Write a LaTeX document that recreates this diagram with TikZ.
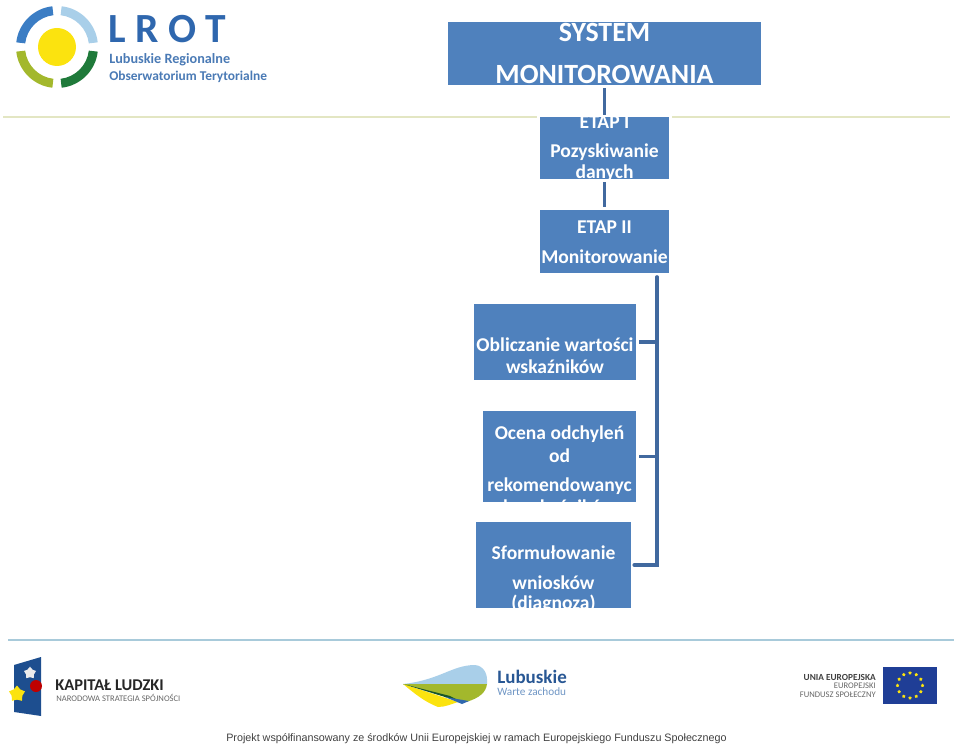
\documentclass[tikz,border=0pt]{standalone}
\usepackage{fontspec}
\setmainfont{Carlito}
\newfontfamily\lrotfont[LetterSpace=24]{Carlito}
\newfontfamily\footfont{Liberation Sans}
\usetikzlibrary{shapes.geometric,calc}
\definecolor{boxblue}{HTML}{4F81BD}
\definecolor{linkblue}{HTML}{41699F}
\definecolor{logoblue}{HTML}{2F67AE}
\definecolor{logotext}{HTML}{4A7AB5}
\definecolor{arcblue}{HTML}{3B7DC4}
\definecolor{arcsky}{HTML}{A9CFE9}
\definecolor{arcolive}{HTML}{A3B82C}
\definecolor{arcgreen}{HTML}{1F7A3A}
\definecolor{sunyellow}{HTML}{FBE30F}
\definecolor{topline}{HTML}{E3E6C3}
\definecolor{botline}{HTML}{A8CADA}
\definecolor{euflag}{HTML}{1F3E96}
\definecolor{kapblue}{HTML}{1D4E8F}
\tikzset{
  blockbox/.style={fill=boxblue,inner sep=0pt},
  blocktext/.style={text=white,align=center,font=\fontsize{13.9}{15}\selectfont\bfseries,inner sep=0pt},
  titletext/.style={text=white,align=center,font=\fontsize{19.8}{22}\selectfont\bfseries,inner sep=0pt},
  link/.style={draw=linkblue,line width=2.6pt},
  greytext/.style={text=black!60,inner sep=0pt,font=\fontsize{6.1}{7}\selectfont},
  eustar/.style={star,star points=5,fill=sunyellow,inner sep=0pt,minimum size=2.6pt}
}
\begin{document}
\begin{tikzpicture}[x=0.025cm,y=-0.025cm]
\useasboundingbox (0,0) rectangle (960,754);

% lines of the slide
\draw[topline,line width=2pt] (3,117)--(537,117);
\draw[topline,line width=2pt] (672,117)--(950,117);
\draw[botline,line width=1.5pt] (8,640)--(954,640);

% top logo
\begin{scope}[shift={(57,47)},x=0.025cm,y=0.025cm]
\foreach \a/\c in {96.5/arcblue,6.5/arcsky,186.5/arcolive,276.5/arcgreen} {
  \fill[\c] (\a:41) arc[start angle=\a,delta angle=77,radius=41] -- (\a+77:32) arc[start angle=\a+77,delta angle=-77,radius=32] -- cycle;
}
\fill[sunyellow] (0,0) circle[radius=19];
\end{scope}
\node[inner sep=0pt,anchor=west,text=logoblue] (lrot) at (108,29.5) {\fontsize{29.5}{30}\lrotfont\bfseries LROT};
\node[inner sep=0pt,anchor=west,text=logotext] (lubreg) at (109,60) {\fontsize{10.1}{12}\selectfont\bfseries Lubuskie Regionalne};
\node[inner sep=0pt,anchor=west,text=logotext] (obster) at (109,77) {\fontsize{9.55}{12}\selectfont\bfseries Obserwatorium Terytorialne};

% boxes
\node[blockbox,minimum width=313*0.711pt,minimum height=63*0.711pt] (system) at (604.5,53.5) {};
\node[blockbox,minimum width=129*0.711pt,minimum height=62*0.711pt] (etapI) at (604.5,148) {};
\node[blockbox,minimum width=129*0.711pt,minimum height=63*0.711pt] (etapII) at (604.5,241.5) {};
\node[blockbox,minimum width=162*0.711pt,minimum height=76*0.711pt] (obliczanie) at (555,342) {};
\node[blockbox,minimum width=153*0.711pt,minimum height=91*0.711pt] (ocena) at (559.5,456.5) {};
\node[blockbox,minimum width=155*0.711pt,minimum height=86*0.711pt] (wnioski) at (553.5,565) {};

% texts
\node[titletext] at (604.5,32) {SYSTEM};
\node[titletext] at (604.5,74) {MONITOROWANIA};
\node[blocktext] at (604.5,122) {ETAP I};
\node[blocktext] at (604.5,152) {Pozyskiwanie};
\node[blocktext] at (604.5,173) {danych};
\node[blocktext] at (604.5,227) {ETAP II};
\node[blocktext] at (604.5,257) {Monitorowanie};
\node[blocktext] at (555,345) {Obliczanie wartości};
\node[blocktext] at (555,367) {wskaźników};
\node[blocktext] at (559.5,434) {Ocena odchyleń};
\node[blocktext] at (559.5,456) {od};
\node[blocktext] at (559.5,486) {rekomendowanyc};
\node[blocktext] at (559.5,507) {h wskaźników};
\node[blocktext] at (553.5,553) {Sformułowanie};
\node[blocktext] at (553.5,583) {wniosków};
\node[blocktext] at (553.5,604) {(diagnoza)};

% connectors
\coordinate (trunk) at (657,277);
\coordinate (corner) at (657,565);
\draw[link,shorten <=3*0.711pt,shorten >=2*0.711pt] (system.south-|etapI.north)--(etapI.north);
\draw[link,shorten <=3*0.711pt,shorten >=3*0.711pt] (etapI.south)--(etapII.north);
\draw[link,line cap=round] (trunk)--(corner)--([xshift=3*0.711pt]wnioski.east|-corner);
\draw[link] ([xshift=3*0.711pt]obliczanie.east)--(obliczanie.east-|trunk);
\draw[link] ([xshift=3*0.711pt]ocena.east)--(ocena.east-|trunk);

% bottom logos
\fill[kapblue] (14,665)--(41,657)--(41,716)--(14,712)--cycle;
\node[star,star points=5,fill=white!85!gray,inner sep=0pt,minimum size=9pt] (kapwhite) at (30,673) {};
\fill[red!75!black] (36,686) circle[radius=6];
\node[star,star points=5,fill=sunyellow,inner sep=0pt,minimum size=12pt] (kapyellow) at (17,694) {};
\node[inner sep=0pt,anchor=west,text=black!85] (kapital) at (55,685) {\fontsize{11.7}{13}\selectfont\bfseries KAPITAŁ LUDZKI};
\node[greytext,anchor=west] (narodowa) at (56,698) {NARODOWA STRATEGIA SPÓJNOŚCI};

\fill[arcsky] (403,684) .. controls (440,680) and (452,665) .. (475,665) .. controls (484,666) and (488,674) .. (487,684) -- cycle;
\fill[arcolive] (403,684)--(487,684) .. controls (486,692) and (480,698) .. (466,702) -- cycle;
\fill[sunyellow] (403,684)--(458,702) .. controls (452,704) and (445,707) .. (438,707) .. controls (425,702) and (415,694) .. (403,684) -- cycle;
\fill[arcgreen!70!black] (403,684)--(450,696)--(462,702)--(445,697)--cycle;
\fill[logoblue] (445,697)--(469,701)--(462,704)--cycle;
\node[inner sep=0pt,anchor=west,text=logoblue!85!black] (lubuskie) at (497,676.5) {\fontsize{13.5}{14}\selectfont\bfseries Lubuskie};
\node[inner sep=0pt,anchor=west,text=logotext!80] (warte) at (497,691.5) {\fontsize{8}{9}\selectfont Warte zachodu};

\node[inner sep=0pt,anchor=east,text=black!75] (unia) at (876,677) {\fontsize{6.6}{7}\selectfont\bfseries UNIA EUROPEJSKA};
\node[greytext,anchor=east] (europejski) at (876,686) {EUROPEJSKI};
\node[greytext,anchor=east] (fundusz) at (876,695) {FUNDUSZ SPOŁECZNY};
\fill[euflag] (883,667) rectangle (937,704);
\foreach \i in {1,...,12} {
  \node[eustar] (star\i) at ($(910,685.5)+(\i*30:12.5)$) {};
}

\node[inner sep=0pt,anchor=west,text=black!75] (footer) at (226,739) {\fontsize{7.65}{9}\footfont Projekt współfinansowany ze środków Unii Europejskiej w ramach Europejskiego Funduszu Społecznego};
\end{tikzpicture}
\end{document}
